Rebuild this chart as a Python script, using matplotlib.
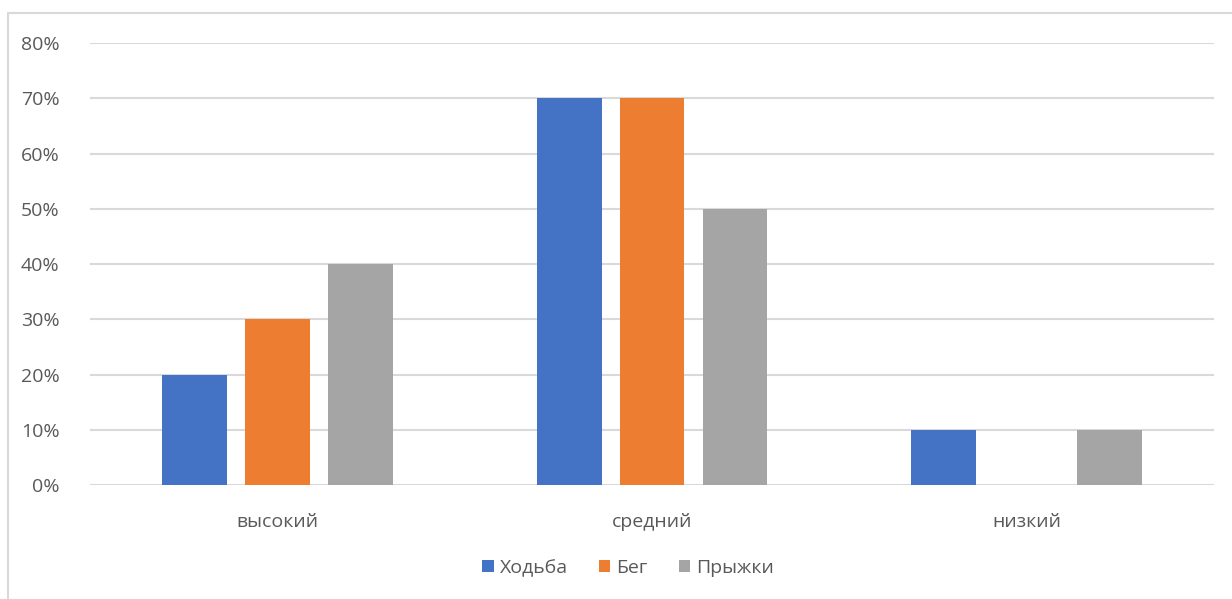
import numpy as np
import matplotlib.pyplot as plt
from matplotlib.patches import Rectangle
from matplotlib.ticker import PercentFormatter

categories = ['высокий', 'средний', 'низкий']
series_names = ['Ходьба', 'Бег', 'Прыжки']
hodba = [20, 70, 10]
beg = [30, 70, 0]
pryzhki = [40, 50, 10]
colors = ['#4472C4', '#ED7D31', '#A5A5A5']

plt.rcParams['font.family'] = ['Open Sans', 'DejaVu Sans']

fig = plt.figure(figsize=(12.32, 5.99), dpi=100)
ax = fig.add_axes([0.0731, 0.1903, 0.9123, 0.7379])

# chart frame (cropped at right and bottom)
fig.patches.append(Rectangle((8 / 1232, -0.1), 1.2, 1 - 13 / 599 + 0.1,
                             transform=fig.transFigure, fill=False,
                             edgecolor='#d9d9d9', linewidth=1.5))

x = np.arange(len(categories))
width = 0.173
step = 0.2213
for i, (name, vals) in enumerate(zip(series_names, [hodba, beg, pryzhki])):
    ax.bar(x + (i - 1) * step, vals, width, color=colors[i], label=name, zorder=3)

ax.set_xlim(-0.5, 2.5)
ax.set_ylim(0, 80)
ax.set_yticks(range(0, 81, 10))
ax.yaxis.set_major_formatter(PercentFormatter(decimals=0))
ax.set_xticks(x)
ax.set_xticklabels(categories)
ax.grid(axis='y', color='#d9d9d9', linewidth=1.5, zorder=0)
for s in ax.spines.values():
    s.set_visible(False)
ax.tick_params(length=0, colors='#595959', labelsize=14)
ax.tick_params(axis='y', pad=22)
ax.tick_params(axis='x', pad=20)

ax.legend(loc='center', bbox_to_anchor=(628 / 1232, 1 - 568 / 599),
          bbox_transform=fig.transFigure, ncol=3, frameon=False,
          fontsize=14, labelcolor='#595959', handlelength=0.6,
          handleheight=0.6, handletextpad=0.3, columnspacing=1.6)

fig.savefig('out.png', dpi=100, facecolor='white')
